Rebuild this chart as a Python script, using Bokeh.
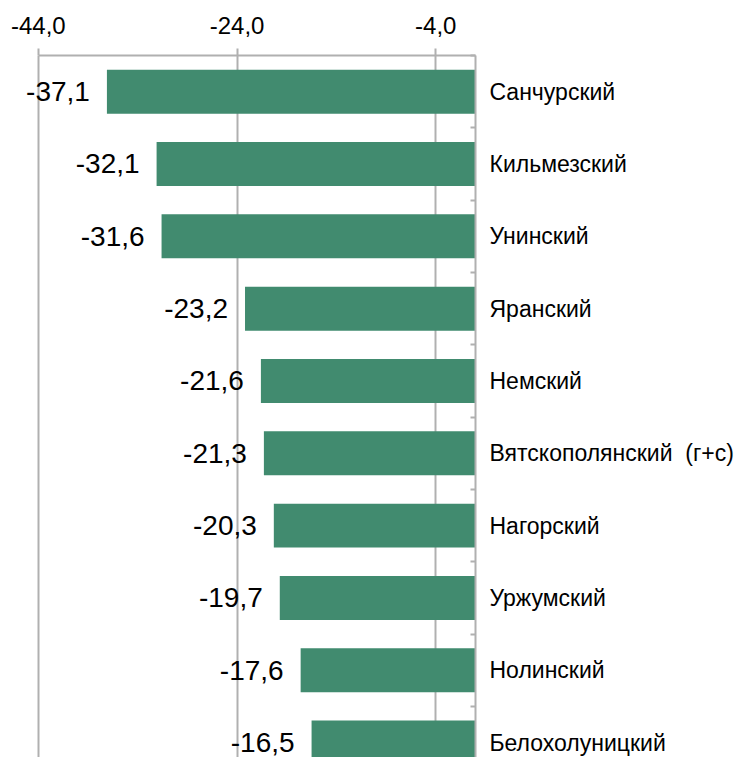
from bokeh.plotting import figure
from bokeh.models import Range1d, FixedTicker, ColumnDataSource
from bokeh.core.properties import value
from bokeh.embed import file_html
from bokeh.resources import INLINE

regions = ["Санчурский", "Кильмезский", "Унинский", "Яранский", "Немский",
           "Вятскополянский\u00a0\u00a0(г+с)", "Нагорский", "Уржумский", "Нолинский",
           "Белохолуницкий"]
values = [-37.1, -32.1, -31.6, -23.2, -21.6, -21.3, -20.3, -19.7, -17.6, -16.5]
x_ticks = [-44, -24, -4]
x_tick_labels = ["-44,0", "-24,0", "-4,0"]

n = len(regions)
idx = list(range(n))
src = ColumnDataSource(dict(
    y=idx, left=values, right=[0] * n,
    label=[f"{v:.1f}".replace(".", ",") for v in values],
))

FONT = "Liberation Sans"
GRAY = "#b0b0b0"

p = figure(width=736, height=757, output_backend="svg", toolbar_location=None,
           x_range=Range1d(-46, 0), y_range=Range1d(9.206, -0.5),
           x_axis_location="above", y_axis_location="right",
           min_border_left=18, min_border_right=258, min_border_top=55,
           min_border_bottom=0)
p.outline_line_color = None
p.background_fill_color = "white"
p.border_fill_color = "white"

# top axis
xa = p.xaxis[0]
xa.ticker = FixedTicker(ticks=x_ticks, minor_ticks=[])
xa.major_label_overrides = {t: l for t, l in zip(x_ticks, x_tick_labels)}
xa.bounds = (min(x_ticks), 0)
xa.axis_line_color = GRAY
xa.axis_line_width = 2
xa.major_tick_out = 7
xa.major_tick_in = 0
xa.major_tick_line_color = GRAY
xa.major_tick_line_width = 2
xa.major_label_standoff = 15
xa.major_label_text_font = FONT
xa.major_label_text_font_size = "24px"
xa.major_label_text_color = "black"

# right category axis
ya = p.yaxis[0]
ya.ticker = FixedTicker(ticks=idx, minor_ticks=[i + 0.5 for i in range(-1, n)])
ya.major_label_overrides = {i: r for i, r in enumerate(regions)}
ya.axis_line_color = GRAY
ya.axis_line_width = 2
ya.major_tick_in = 0
ya.major_tick_out = 0
ya.minor_tick_in = 5
ya.minor_tick_out = 0
ya.minor_tick_line_color = GRAY
ya.minor_tick_line_width = 2
ya.major_label_standoff = 14
ya.major_label_text_font = FONT
ya.major_label_text_font_size = "23px"
ya.major_label_text_color = "black"

p.xgrid.ticker = FixedTicker(ticks=x_ticks, minor_ticks=[])
p.xgrid.grid_line_color = GRAY
p.xgrid.grid_line_width = 2
p.ygrid.visible = False

p.hbar(y="y", left="left", right="right", height=0.608, source=src,
       fill_color="#418b6f", line_color=None)

p.text(x="left", y="y", text="label", source=src, text_align="right",
       text_baseline="middle", x_offset=-17, text_font=value(FONT),
       text_font_size="28px", text_line_height=1.0, text_color="black")

open("out.html", "w").write(file_html(p, INLINE))
